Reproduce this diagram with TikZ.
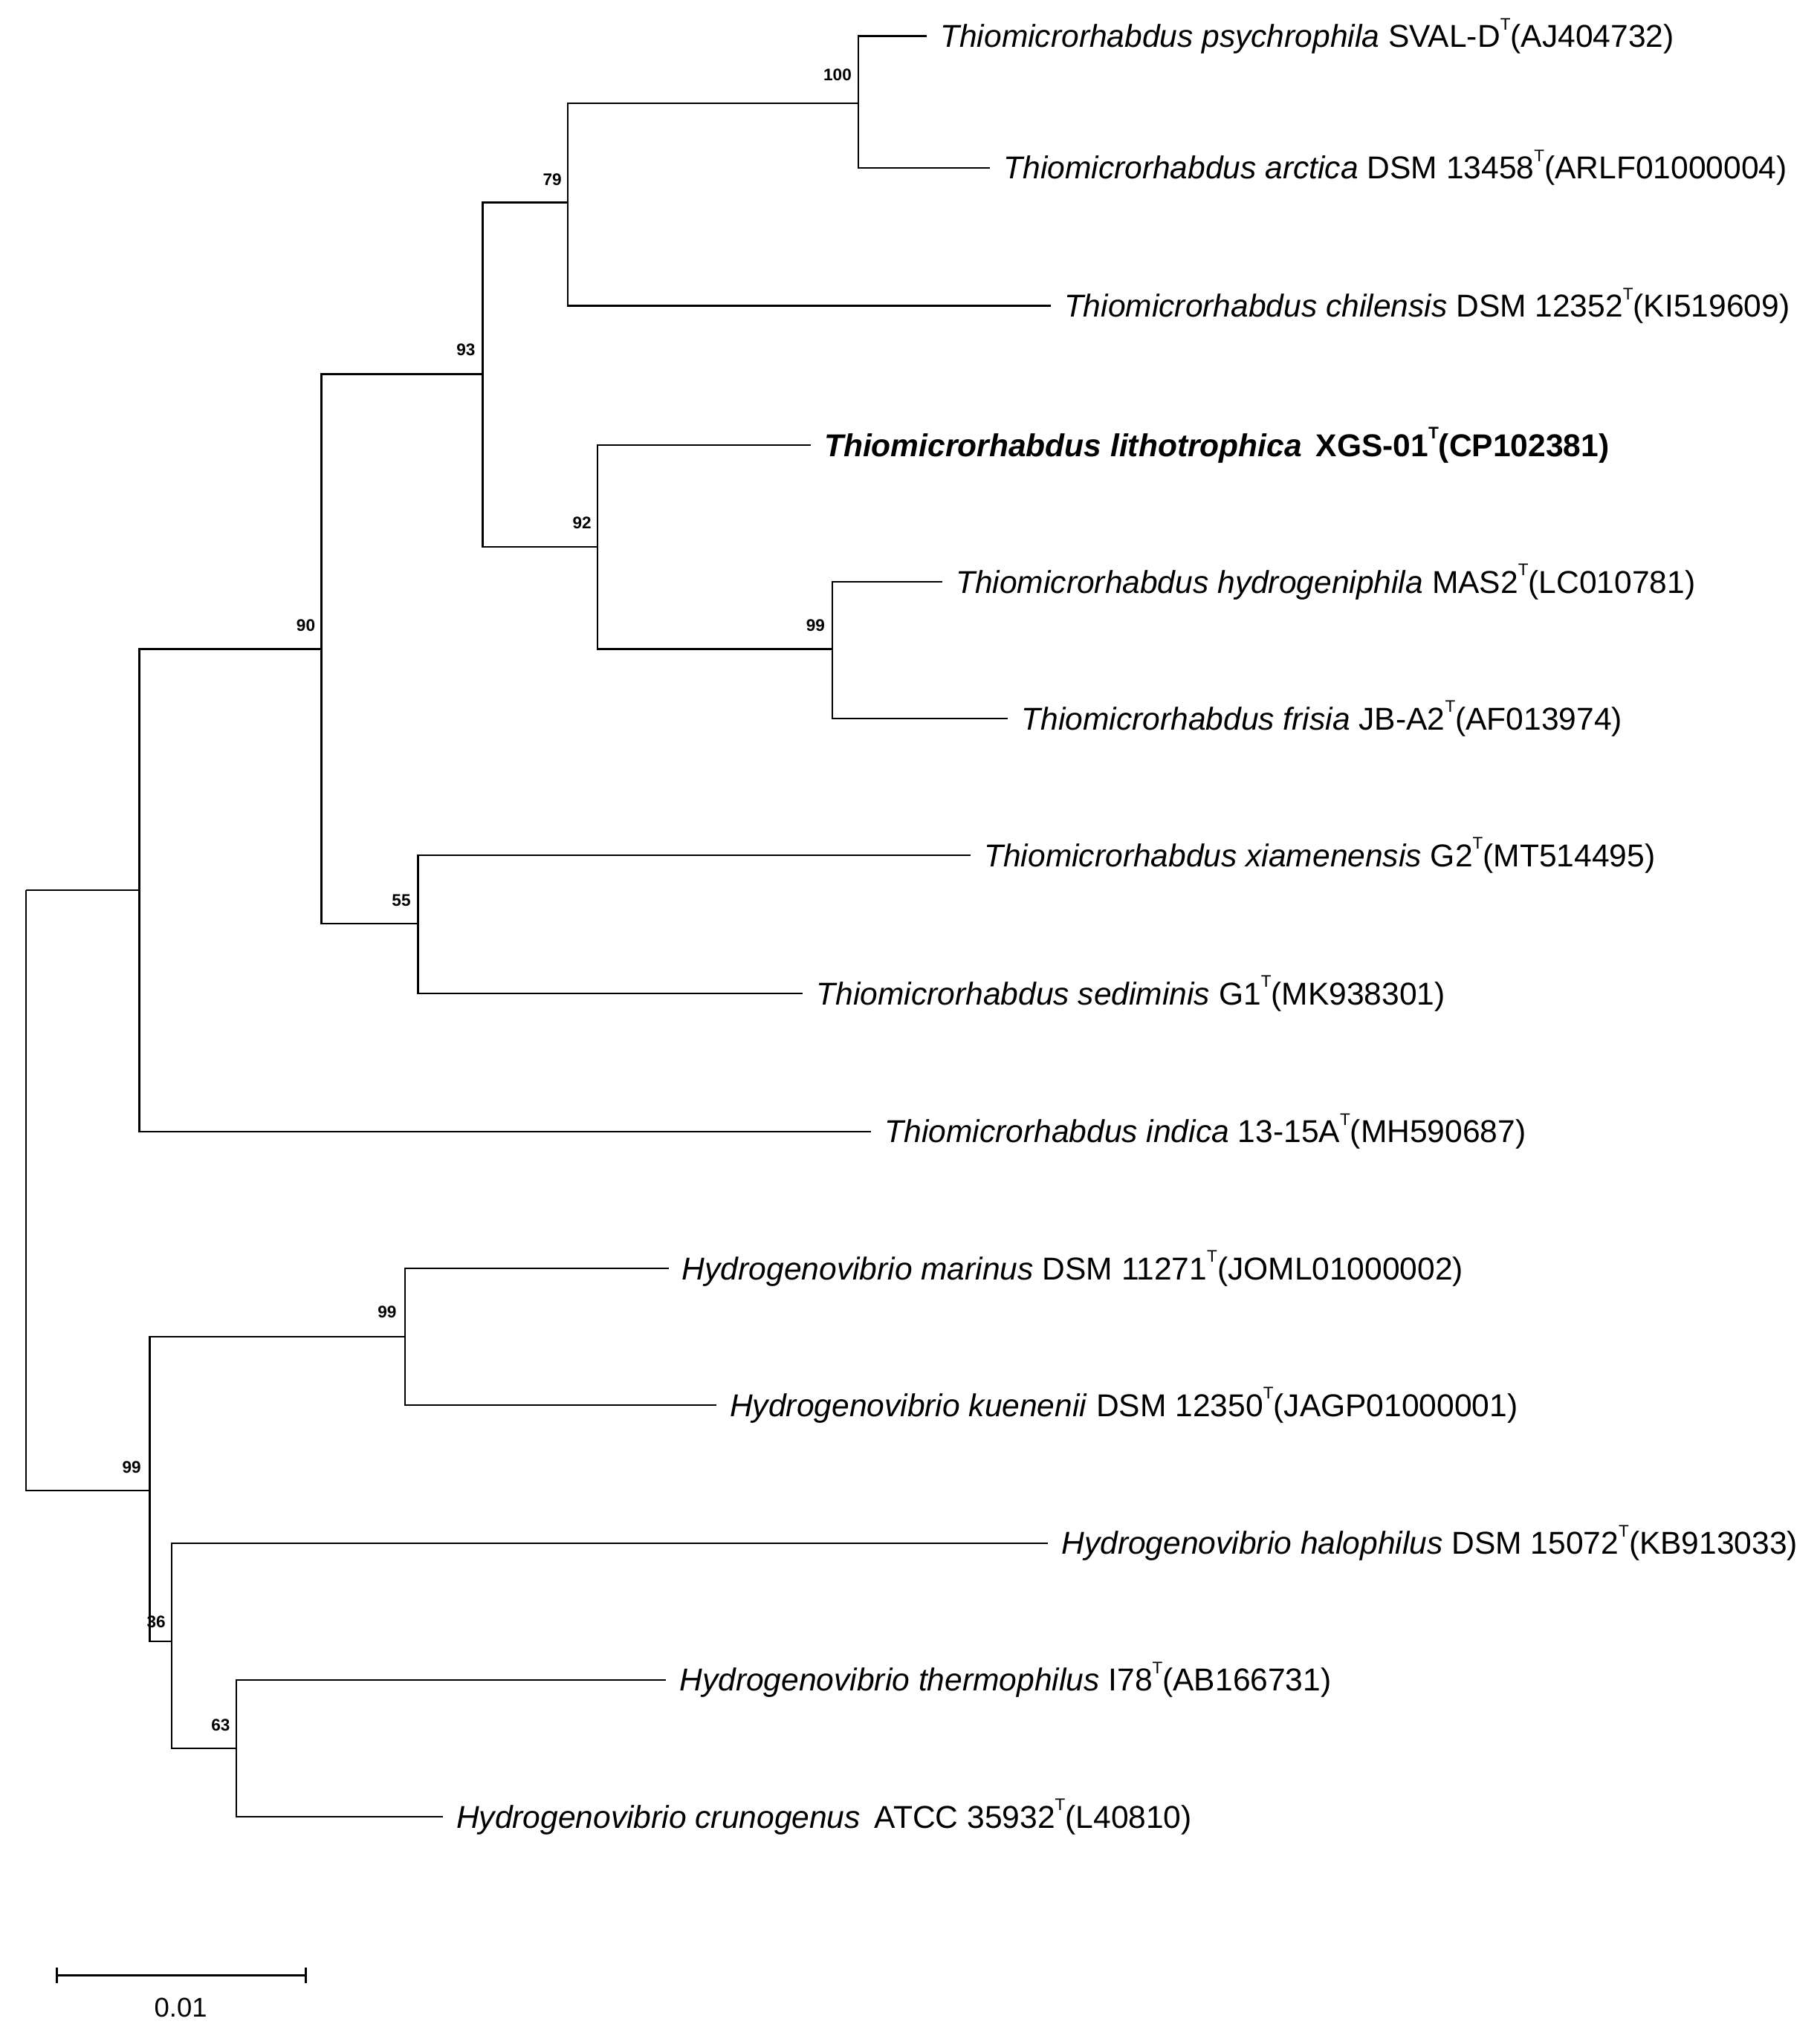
\documentclass[tikz,border=0pt]{standalone}
\usepackage{fontspec}
\setmainfont{Liberation Sans}
\newcommand{\supT}{\raisebox{0.55em}{\fontsize{13}{14}\selectfont T}}
\begin{document}
\begin{tikzpicture}[x=1pt,y=-1pt,line width=1.3pt,
  leaf/.style={anchor=west,inner xsep=10pt,inner ysep=0pt,font=\fontsize{24.5}{28}\selectfont},
  boot/.style={font=\fontsize{13}{15}\selectfont\bfseries,inner sep=0pt}]
\useasboundingbox (0,0) rectangle (1410,1571);
% internal nodes
\coordinate (r) at (20,690);
\coordinate (u) at (108,690);
\coordinate (n90) at (249,503);
\coordinate (n55) at (324,716);
\coordinate (n93) at (374,290);
\coordinate (n79) at (440,157);
\coordinate (n100) at (665,80);
\coordinate (n92) at (463,424);
\coordinate (n99a) at (645,503);
\coordinate (l) at (116,1155);
\coordinate (n99c) at (314,1036);
\coordinate (n36) at (133,1272);
\coordinate (n63) at (183,1355);
% leaves
\coordinate (psy) at (718,28);
\coordinate (arc) at (767,130);
\coordinate (chi) at (814,237);
\coordinate (lit) at (628,345);
\coordinate (hyd) at (730,451);
\coordinate (fri) at (781,557);
\coordinate (xia) at (752,663);
\coordinate (sed) at (622,770);
\coordinate (ind) at (675,877);
\coordinate (mar) at (518,983);
\coordinate (kue) at (555,1089);
\coordinate (hal) at (812,1196);
\coordinate (the) at (516,1302);
\coordinate (cru) at (343,1408);
% edges
\draw (r) |- (u); \draw (r) |- (l);
\draw (u) |- (n90); \draw (u) |- (ind);
\draw (n90) |- (n93); \draw (n90) |- (n55);
\draw (n55) |- (xia); \draw (n55) |- (sed);
\draw (n93) |- (n79); \draw (n93) |- (n92);
\draw (n79) |- (n100); \draw (n79) |- (chi);
\draw (n100) |- (psy); \draw (n100) |- (arc);
\draw (n92) |- (lit); \draw (n92) |- (n99a);
\draw (n99a) |- (hyd); \draw (n99a) |- (fri);
\draw (l) |- (n99c); \draw (l) |- (n36);
\draw (n99c) |- (mar); \draw (n99c) |- (kue);
\draw (n36) |- (hal); \draw (n36) |- (n63);
\draw (n63) |- (the); \draw (n63) |- (cru);
% labels
\node[leaf] (tpsy) at (psy) {\textit{Thiomicrorhabdus psychrophila} SVAL-D\supT(AJ404732)};
\node[leaf] (tarc) at (arc) {\textit{Thiomicrorhabdus arctica} DSM 13458\supT(ARLF01000004)};
\node[leaf] (tchi) at (chi) {\textit{Thiomicrorhabdus chilensis} DSM 12352\supT(KI519609)};
\node[leaf] (tlit) at (lit) {\textbf{\textit{Thiomicrorhabdus lithotrophica}\, XGS-01\supT(CP102381)}};
\node[leaf] (thyd) at (hyd) {\textit{Thiomicrorhabdus hydrogeniphila} MAS2\supT(LC010781)};
\node[leaf] (tfri) at (fri) {\textit{Thiomicrorhabdus frisia} JB-A2\supT(AF013974)};
\node[leaf] (txia) at (xia) {\textit{Thiomicrorhabdus xiamenensis} G2\supT(MT514495)};
\node[leaf] (tsed) at (sed) {\textit{Thiomicrorhabdus sediminis} G1\supT(MK938301)};
\node[leaf] (tind) at (ind) {\textit{Thiomicrorhabdus indica} 13-15A\supT(MH590687)};
\node[leaf] (tmar) at (mar) {\textit{Hydrogenovibrio marinus} DSM 11271\supT(JOML01000002)};
\node[leaf] (tkue) at (kue) {\textit{Hydrogenovibrio kuenenii} DSM 12350\supT(JAGP01000001)};
\node[leaf] (thal) at (hal) {\textit{Hydrogenovibrio halophilus} DSM 15072\supT(KB913033)};
\node[leaf] (tthe) at (the) {\textit{Hydrogenovibrio thermophilus} I78\supT(AB166731)};
\node[leaf] (tcru) at (cru) {\textit{Hydrogenovibrio crunogenus}\, ATCC 35932\supT(L40810)};
% bootstrap
\node[boot] (b100) at (649,58) {100};
\node[boot] (b79) at (428,139) {79};
\node[boot] (b93) at (361,271) {93};
\node[boot] (b92) at (451,405) {92};
\node[boot] (b99a) at (632,485) {99};
\node[boot] (b90) at (237,485) {90};
\node[boot] (b55) at (311,698) {55};
\node[boot] (b99c) at (300,1017) {99};
\node[boot] (b99b) at (102,1137) {99};
\node[boot] (b36) at (121,1257) {36};
\node[boot] (b63) at (171,1337) {63};
% scale bar
\coordinate (s1) at (44,1531);
\coordinate (s2) at (237,1531);
\draw (s1) -- (s2);
\draw ([yshift=-6]s1) -- ([yshift=6]s1);
\draw ([yshift=-6]s2) -- ([yshift=6]s2);
\node[font=\fontsize{21}{24}\selectfont] (sl) at (140,1556) {0.01};
\end{tikzpicture}
\end{document}
